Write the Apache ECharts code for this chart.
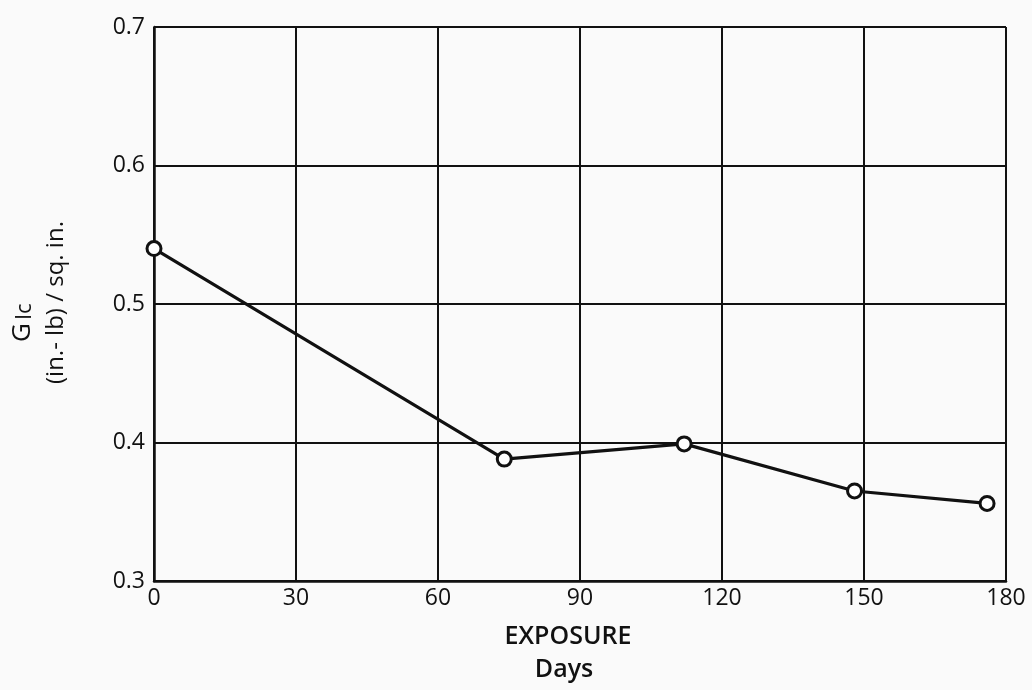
<!DOCTYPE html>
<html>
<head>
<meta charset="utf-8">
<script src="https://cdn.jsdelivr.net/npm/echarts@6/dist/echarts.min.js"></script>
<style>
  html, body { margin: 0; padding: 0; background: #fafafa; }
  #chart { width: 1032px; height: 690px; }
</style>
</head>
<body>
<div id="chart"></div>
<script>
// exposure time in days and fracture energy G_Ic
const days = [0, 74, 112, 148, 176]
const gIc = [0.540, 0.388, 0.399, 0.365, 0.356]
const xTicks = [0, 30, 60, 90, 120, 150, 180]
const yTicks = [0.3, 0.4, 0.5, 0.6, 0.7]

const chart = echarts.init(document.getElementById('chart'))
const font = 'Open Sans'

const option = {
  backgroundColor: '#fafafa',
  animation: false,
  grid: { left: 154, right: 26, top: 27, bottom: 109 },
  xAxis: {
    type: 'value',
    min: xTicks[0],
    max: xTicks[xTicks.length - 1],
    interval: 30,
    axisLine: { show: true, lineStyle: { color: '#111', width: 2.5 } },
    axisTick: { show: false },
    splitLine: { show: true, lineStyle: { color: '#111', width: 2 } },
    axisLabel: { color: '#111', fontSize: 23, fontFamily: font, margin: 6 }
  },
  yAxis: {
    type: 'value',
    min: yTicks[0],
    max: yTicks[yTicks.length - 1],
    interval: 0.1,
    axisLine: { show: true, lineStyle: { color: '#111', width: 2.5 } },
    axisTick: { show: false },
    splitLine: { show: true, lineStyle: { color: '#111', width: 2 } },
    axisLabel: {
      color: '#111', fontSize: 23, fontFamily: font, margin: 9,
      formatter: v => v.toFixed(1)
    }
  },
  graphic: [
    {
      type: 'text',
      x: 568, y: 624,
      style: {
        text: 'EXPOSURE', fontSize: 25, fontFamily: font, fontWeight: 600,
        fill: '#111', textAlign: 'center', textVerticalAlign: 'top'
      }
    },
    {
      type: 'text',
      x: 564, y: 657,
      style: {
        text: 'Days', fontSize: 25, fontFamily: font, fontWeight: 600,
        fill: '#111', textAlign: 'center', textVerticalAlign: 'top'
      }
    },
    {
      type: 'text',
      x: 10, y: 342,
      rotation: Math.PI / 2,
      style: {
        text: '{g|G}{s|Ic}',
        rich: {
          g: { fontSize: 26, fontFamily: font, fill: '#111' },
          s: { fontSize: 22, fontFamily: font, fill: '#111', padding: [4, 0, 0, 3] }
        }
      }
    },
    {
      type: 'text',
      x: 44, y: 384,
      rotation: Math.PI / 2,
      style: { text: '(in.- lb) / sq. in.', fontSize: 24, fontFamily: font, fill: '#111' }
    }
  ],
  series: [
    {
      type: 'line',
      data: days.map((d, i) => [d, gIc[i]]),
      symbol: 'circle',
      symbolSize: 14,
      lineStyle: { color: '#111', width: 3.2 },
      itemStyle: { color: '#fff', borderColor: '#111', borderWidth: 3 }
    }
  ]
}

chart.setOption(option)
</script>
</body>
</html>
